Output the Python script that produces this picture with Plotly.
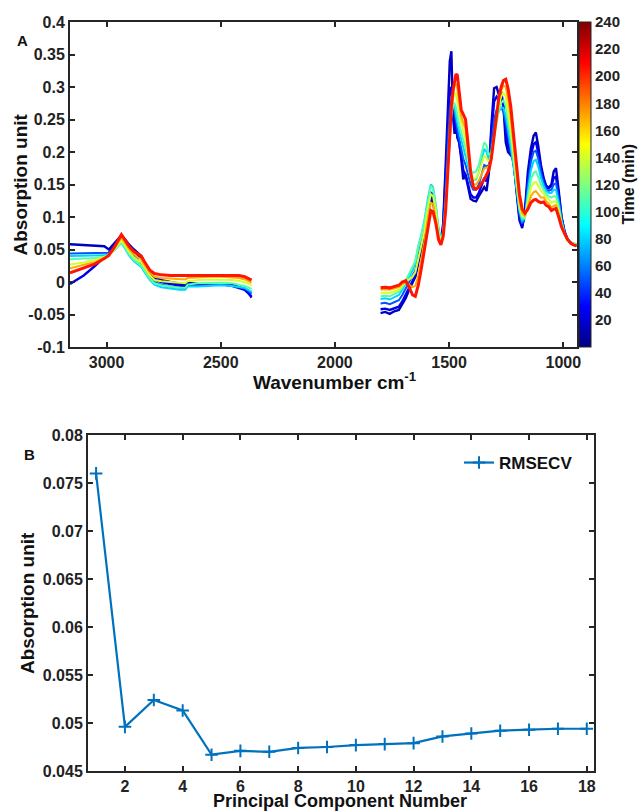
import plotly.graph_objects as go

# ---------------- DATA ----------------
times = [15, 25, 50, 80, 110, 140, 170, 205]

left_wn = [3160, 3100, 3050, 3010, 2990, 2965, 2945, 2935, 2920, 2900, 2880, 2860, 2848, 2835, 2810,
           2790, 2760, 2720, 2680, 2655, 2645, 2600, 2550, 2500, 2450, 2420, 2395, 2380, 2365]

left_t015 = [0.058, 0.057, 0.056, 0.055, 0.050, 0.060, 0.069, 0.072, 0.066, 0.057, 0.050, 0.044, 0.040, 0.030, 0.015,
             0.007, 0.003, 0.000, -0.003, -0.004, -0.001, -0.003, -0.004, -0.002, -0.004, -0.008, -0.010, -0.016, -0.024]
left_t025 = [-0.003, 0.010, 0.025, 0.038, 0.045, 0.056, 0.066, 0.069, 0.062, 0.054, 0.047, 0.040, 0.036, 0.026, 0.012,
             0.004, 0.000, -0.003, -0.006, -0.007, -0.003, -0.004, -0.003, -0.003, -0.006, -0.009, -0.012, -0.017, -0.022]
left_t050 = [0.044, 0.044, 0.044, 0.044, 0.045, 0.052, 0.061, 0.064, 0.058, 0.048, 0.040, 0.032, 0.029, 0.022, 0.008,
             0.000, -0.004, -0.007, -0.009, -0.010, -0.005, -0.006, -0.005, -0.004, -0.006, -0.008, -0.010, -0.013, -0.018]
left_t080 = [0.040, 0.040, 0.040, 0.041, 0.043, 0.049, 0.057, 0.060, 0.052, 0.040, 0.032, 0.026, 0.023, 0.016, 0.003,
             -0.004, -0.008, -0.010, -0.012, -0.012, -0.007, -0.007, -0.006, -0.005, -0.006, -0.008, -0.009, -0.012, -0.015]
left_t110 = [0.035, 0.036, 0.037, 0.039, 0.042, 0.049, 0.057, 0.060, 0.053, 0.042, 0.034, 0.028, 0.025, 0.018, 0.005,
             -0.002, -0.005, -0.007, -0.009, -0.009, -0.004, -0.002, -0.001, -0.001, -0.002, -0.004, -0.006, -0.008, -0.011]
left_t140 = [0.027, 0.030, 0.034, 0.038, 0.041, 0.050, 0.060, 0.064, 0.057, 0.046, 0.038, 0.032, 0.030, 0.023, 0.010,
             0.003, 0.001, 0.000, -0.001, -0.002, 0.001, 0.003, 0.004, 0.004, 0.003, 0.002, 0.000, -0.002, -0.005]
left_t170 = [0.021, 0.026, 0.031, 0.037, 0.041, 0.052, 0.064, 0.068, 0.061, 0.050, 0.043, 0.037, 0.035, 0.027, 0.014,
             0.008, 0.006, 0.005, 0.005, 0.004, 0.006, 0.007, 0.008, 0.008, 0.007, 0.006, 0.004, 0.002, -0.001]
left_t205 = [0.014, 0.021, 0.028, 0.036, 0.041, 0.054, 0.068, 0.073, 0.065, 0.054, 0.047, 0.042, 0.040, 0.032, 0.018,
             0.013, 0.011, 0.010, 0.010, 0.010, 0.011, 0.011, 0.011, 0.011, 0.011, 0.010, 0.008, 0.006, 0.003]

right_wn = [1800, 1780, 1760, 1740, 1720, 1705, 1690, 1675, 1660, 1648, 1635, 1622, 1608, 1592, 1580, 1570,
            1558, 1546, 1536, 1526, 1515, 1505, 1497, 1490, 1483, 1476, 1470, 1464, 1456, 1447, 1438, 1428,
            1418, 1406, 1394, 1382, 1370, 1358, 1346, 1336, 1326, 1315, 1303, 1292, 1282, 1272, 1262, 1252,
            1242, 1230, 1218, 1205, 1192, 1180, 1168, 1155, 1142, 1130, 1120, 1110, 1098, 1086, 1075, 1064,
            1052, 1042, 1032, 1020, 1008, 995, 982, 968, 955, 942]

right_t015 = [-0.048, -0.046, -0.049, -0.045, -0.043, -0.035, -0.025, -0.012, -0.002, 0.008, 0.030, 0.050, 0.070, 0.105, 0.128, 0.122,
              0.100, 0.072, 0.062, 0.090, 0.180, 0.280, 0.340, 0.355, 0.255, 0.228, 0.250, 0.222, 0.215, 0.190, 0.158, 0.165,
              0.150, 0.128, 0.125, 0.124, 0.132, 0.140, 0.146, 0.140, 0.168, 0.240, 0.298, 0.300, 0.288, 0.293, 0.270, 0.215,
              0.200, 0.195, 0.190, 0.140, 0.095, 0.083, 0.110, 0.170, 0.205, 0.225, 0.230, 0.210, 0.180, 0.160, 0.148, 0.145,
              0.150, 0.170, 0.175, 0.140, 0.100, 0.078, 0.065, 0.060, 0.057, 0.055]
right_t025 = [-0.042, -0.041, -0.043, -0.040, -0.038, -0.030, -0.020, -0.008, 0.002, 0.010, 0.032, 0.055, 0.075, 0.110, 0.132, 0.128,
              0.105, 0.075, 0.063, 0.085, 0.160, 0.245, 0.295, 0.300, 0.270, 0.240, 0.235, 0.228, 0.215, 0.195, 0.172, 0.165,
              0.152, 0.135, 0.130, 0.130, 0.137, 0.148, 0.160, 0.155, 0.175, 0.230, 0.278, 0.285, 0.280, 0.283, 0.270, 0.235,
              0.210, 0.200, 0.185, 0.145, 0.100, 0.086, 0.105, 0.160, 0.195, 0.212, 0.215, 0.200, 0.175, 0.158, 0.146, 0.144,
              0.148, 0.160, 0.162, 0.135, 0.100, 0.078, 0.066, 0.060, 0.058, 0.056]
right_t050 = [-0.033, -0.032, -0.034, -0.031, -0.028, -0.020, -0.010, 0.000, 0.008, 0.018, 0.040, 0.062, 0.082, 0.118, 0.138, 0.135,
              0.110, 0.078, 0.064, 0.080, 0.140, 0.215, 0.265, 0.280, 0.278, 0.260, 0.245, 0.235, 0.220, 0.205, 0.190, 0.180,
              0.165, 0.150, 0.142, 0.142, 0.150, 0.165, 0.180, 0.178, 0.180, 0.210, 0.250, 0.265, 0.268, 0.268, 0.262, 0.245,
              0.225, 0.205, 0.180, 0.145, 0.105, 0.090, 0.100, 0.150, 0.185, 0.200, 0.202, 0.190, 0.168, 0.153, 0.142, 0.140,
              0.142, 0.150, 0.152, 0.128, 0.098, 0.078, 0.066, 0.061, 0.058, 0.057]
right_t080 = [-0.026, -0.025, -0.027, -0.024, -0.020, -0.012, -0.002, 0.008, 0.018, 0.030, 0.055, 0.072, 0.095, 0.130, 0.150, 0.146,
              0.118, 0.082, 0.066, 0.078, 0.125, 0.190, 0.240, 0.262, 0.272, 0.268, 0.255, 0.245, 0.232, 0.220, 0.205, 0.195,
              0.178, 0.163, 0.157, 0.158, 0.168, 0.188, 0.205, 0.200, 0.188, 0.200, 0.230, 0.252, 0.263, 0.268, 0.268, 0.255,
              0.235, 0.210, 0.180, 0.145, 0.110, 0.094, 0.098, 0.140, 0.172, 0.186, 0.188, 0.178, 0.160, 0.148, 0.140, 0.137,
              0.137, 0.142, 0.142, 0.122, 0.095, 0.076, 0.065, 0.061, 0.059, 0.058]
right_t110 = [-0.022, -0.021, -0.022, -0.019, -0.015, -0.008, 0.002, 0.012, 0.022, 0.032, 0.055, 0.070, 0.092, 0.128, 0.148, 0.144,
              0.116, 0.080, 0.064, 0.075, 0.115, 0.180, 0.230, 0.258, 0.272, 0.275, 0.268, 0.255, 0.242, 0.230, 0.218, 0.206,
              0.188, 0.172, 0.168, 0.170, 0.180, 0.198, 0.215, 0.210, 0.195, 0.200, 0.225, 0.250, 0.265, 0.275, 0.280, 0.270,
              0.250, 0.222, 0.188, 0.148, 0.112, 0.098, 0.098, 0.130, 0.158, 0.168, 0.170, 0.162, 0.150, 0.142, 0.135, 0.132,
              0.130, 0.132, 0.132, 0.115, 0.092, 0.074, 0.064, 0.060, 0.058, 0.058]
right_t140 = [-0.017, -0.016, -0.017, -0.015, -0.012, -0.006, 0.000, 0.004, 0.008, 0.015, 0.035, 0.055, 0.078, 0.115, 0.135, 0.132,
              0.108, 0.075, 0.061, 0.072, 0.112, 0.175, 0.228, 0.258, 0.280, 0.290, 0.290, 0.280, 0.262, 0.245, 0.232, 0.220,
              0.195, 0.168, 0.158, 0.160, 0.168, 0.182, 0.195, 0.190, 0.185, 0.195, 0.225, 0.255, 0.272, 0.285, 0.292, 0.285,
              0.265, 0.235, 0.198, 0.155, 0.118, 0.102, 0.100, 0.122, 0.145, 0.152, 0.154, 0.148, 0.140, 0.136, 0.130, 0.127,
              0.122, 0.124, 0.124, 0.110, 0.089, 0.074, 0.064, 0.060, 0.058, 0.057]
right_t170 = [-0.012, -0.011, -0.012, -0.010, -0.008, -0.003, 0.000, -0.004, -0.008, -0.006, 0.010, 0.035, 0.062, 0.100, 0.122, 0.120,
              0.098, 0.070, 0.059, 0.071, 0.110, 0.173, 0.230, 0.263, 0.288, 0.302, 0.305, 0.298, 0.276, 0.255, 0.245, 0.235,
              0.205, 0.168, 0.150, 0.150, 0.156, 0.166, 0.175, 0.176, 0.178, 0.192, 0.225, 0.258, 0.280, 0.295, 0.302, 0.300,
              0.282, 0.252, 0.210, 0.163, 0.125, 0.106, 0.102, 0.116, 0.132, 0.138, 0.140, 0.135, 0.130, 0.130, 0.124, 0.121,
              0.115, 0.117, 0.118, 0.105, 0.087, 0.074, 0.065, 0.060, 0.057, 0.056]
right_t205 = [-0.009, -0.008, -0.009, -0.007, -0.005, 0.000, 0.002, -0.008, -0.020, -0.022, -0.005, 0.020, 0.050, 0.090, 0.110, 0.108,
              0.090, 0.065, 0.057, 0.070, 0.110, 0.175, 0.235, 0.270, 0.295, 0.312, 0.320, 0.318, 0.290, 0.265, 0.258, 0.250,
              0.215, 0.170, 0.146, 0.143, 0.146, 0.152, 0.158, 0.165, 0.172, 0.190, 0.225, 0.260, 0.285, 0.300, 0.310, 0.312,
              0.298, 0.270, 0.225, 0.175, 0.135, 0.112, 0.106, 0.112, 0.122, 0.126, 0.127, 0.124, 0.122, 0.123, 0.118, 0.116,
              0.110, 0.112, 0.113, 0.100, 0.085, 0.075, 0.066, 0.060, 0.057, 0.056]

left_series = [left_t015, left_t025, left_t050, left_t080, left_t110, left_t140, left_t170, left_t205]
right_series = [right_t015, right_t025, right_t050, right_t080, right_t110, right_t140, right_t170, right_t205]

pc_number = list(range(1, 19))
rmsecv = [0.0760, 0.0496, 0.0524, 0.0513, 0.0467, 0.0471, 0.0470, 0.0474, 0.0475,
          0.0477, 0.0478, 0.0479, 0.0486, 0.0489, 0.0492, 0.0493, 0.0494, 0.0494]

top_x_ticks = [1000, 1500, 2000, 2500, 3000]
top_y_ticks = [-0.1, -0.05, 0, 0.05, 0.1, 0.15, 0.2, 0.25, 0.3, 0.35, 0.4]
top_y_labels = ["-0.1", "-0.05", "0", "0.05", "0.1", "0.15", "0.2", "0.25", "0.3", "0.35", "0.4"]
cbar_ticks = [20, 40, 60, 80, 100, 120, 140, 160, 180, 200, 220, 240]
bot_x_ticks = [2, 4, 6, 8, 10, 12, 14, 16, 18]
bot_y_ticks = [0.045, 0.05, 0.055, 0.06, 0.065, 0.07, 0.075, 0.08]
bot_y_labels = ["0.045", "0.05", "0.055", "0.06", "0.065", "0.07", "0.075", "0.08"]

# ---------------- STYLE ----------------
W, H = 639, 812
FONT = "Liberation Sans"
AX = "#262626"
JET = [[0.0, "rgb(0,0,128)"], [0.125, "rgb(0,0,255)"], [0.375, "rgb(0,255,255)"],
       [0.625, "rgb(255,255,0)"], [0.875, "rgb(255,0,0)"], [1.0, "rgb(128,0,0)"]]
CMIN, CMAX = 0, 240


def jet_color(t):
    f = (t - CMIN) / (CMAX - CMIN)
    f = max(0.0, min(1.0, f))
    for (p0, c0), (p1, c1) in zip(JET[:-1], JET[1:]):
        if p0 <= f <= p1:
            a = [int(v) for v in c0[4:-1].split(",")]
            b = [int(v) for v in c1[4:-1].split(",")]
            u = (f - p0) / (p1 - p0)
            r = [round(a[i] + (b[i] - a[i]) * u) for i in range(3)]
            return f"rgb({r[0]},{r[1]},{r[2]})"
    return JET[-1][1]


def px(x):
    return x / W


def py(y):
    return 1 - y / H


fig = go.Figure()

for t, ls, rs in zip(times, left_series, right_series):
    col = jet_color(t)
    lw = 3.0 if t >= 200 else (2.4 if t <= 25 else 2.0)
    for xs, ys in ((left_wn, ls), (right_wn, rs)):
        fig.add_trace(go.Scatter(x=xs, y=ys, mode="lines", line=dict(color=col, width=lw),
                                 showlegend=False, hoverinfo="skip", xaxis="x", yaxis="y"))

# colorbar carrier
fig.add_trace(go.Scatter(
    x=[2000], y=[0.5], mode="markers", showlegend=False, xaxis="x", yaxis="y", hoverinfo="skip",
    marker=dict(color=[CMIN], cmin=CMIN, cmax=CMAX, colorscale=JET, showscale=True, size=1, opacity=0,
                colorbar=dict(x=px(579), xanchor="left", xpad=0, ypad=0,
                              y=py((22 + 347) / 2), yanchor="middle",
                              len=325 / H, lenmode="fraction",
                              thickness=12, thicknessmode="pixels",
                              outlinewidth=1, outlinecolor=AX,
                              tickvals=cbar_ticks, ticks="",
                              tickfont=dict(family=FONT, size=15, color="#222", weight="bold"))),
))

fig.add_trace(go.Scatter(
    x=pc_number, y=rmsecv, mode="lines+markers", name="RMSECV",
    line=dict(color="#0072BD", width=2.2),
    marker=dict(symbol="cross-thin", size=9, color="#0072BD", line=dict(color="#0072BD", width=2)),
    xaxis="x2", yaxis="y2", showlegend=True,
))

axis_common = dict(showgrid=False, zeroline=False, showline=True, linecolor=AX, linewidth=2,
                   mirror="ticks", ticks="inside", ticklen=5, tickwidth=1.5, tickcolor=AX,
                   automargin=False,
                   tickfont=dict(family=FONT, size=16, color="#222", weight="bold"))

fig.update_layout(
    width=W, height=H, margin=dict(l=0, r=0, t=0, b=0, pad=0, autoexpand=False),
    paper_bgcolor="white", plot_bgcolor="white",
    xaxis=dict(domain=[px(70), px(577)], range=[3160, 940], anchor="y",
               tickvals=top_x_ticks, ticktext=[str(v) for v in top_x_ticks], **axis_common),
    yaxis=dict(domain=[py(347), py(22)], range=[-0.1, 0.4], anchor="x",
               tickvals=top_y_ticks, ticktext=top_y_labels, **axis_common),
    xaxis2=dict(domain=[px(88), px(594)], range=[0.72, 18.25], anchor="y2",
                tickvals=bot_x_ticks, ticktext=[str(v) for v in bot_x_ticks], **axis_common),
    yaxis2=dict(domain=[py(771), py(435)], range=[0.045, 0.08], anchor="x2",
                tickvals=bot_y_ticks, ticktext=bot_y_labels, **axis_common),
    legend=dict(x=px(578), y=py(463), xanchor="right", yanchor="middle",
                bgcolor="rgba(0,0,0,0)", borderwidth=0,
                font=dict(family=FONT, size=17, color="#111", weight="bold")),
    showlegend=True,
)

ann_font = dict(family=FONT, color="#111", weight="bold")
annotations = [
    dict(text="A", x=px(22), y=py(40), font=dict(size=15, **ann_font)),
    dict(text="B", x=px(29), y=py(455), font=dict(size=15, **ann_font)),
    dict(text="Absorption unit", x=px(20), y=py(184.5), textangle=-90, font=dict(size=19, **ann_font)),
    dict(text="Wavenumber cm<sup>-1</sup>", x=px(335), y=py(381), font=dict(size=19, **ann_font)),
    dict(text="Time (min)", x=px(628), y=py(184.5), textangle=-90, font=dict(size=16, **ann_font)),
    dict(text="Absorption unit", x=px(27), y=py(603), textangle=-90, font=dict(size=19, **ann_font)),
]
for a in annotations:
    a.update(xref="paper", yref="paper", showarrow=False, xanchor="center", yanchor="middle")
annotations.append(dict(text="Principal Component Number", x=px(340), y=0, xref="paper", yref="paper",
                        showarrow=False, xanchor="center", yanchor="bottom", borderpad=0,
                        font=dict(size=18, **ann_font)))
fig.update_layout(annotations=annotations)

page_fix = (
    "var gd=document.getElementById('{plot_id}');"
    "var de=document.documentElement;"
    "de.style.margin='0';de.style.padding='0';de.style.overflow='hidden';"
    "de.style.width='639px';de.style.height='812px';"
    "document.body.style.margin='0';document.body.style.padding='0';"
    "document.body.style.overflow='hidden';"
    "document.body.style.width='639px';document.body.style.height='812px';"
    "gd.style.position='absolute';gd.style.left='0px';gd.style.top='0px';"
    "if(gd.parentElement){gd.parentElement.style.height='812px';gd.parentElement.style.overflow='hidden';}"
)

fig.write_html("out.html", config={"displayModeBar": False}, post_script=page_fix)
